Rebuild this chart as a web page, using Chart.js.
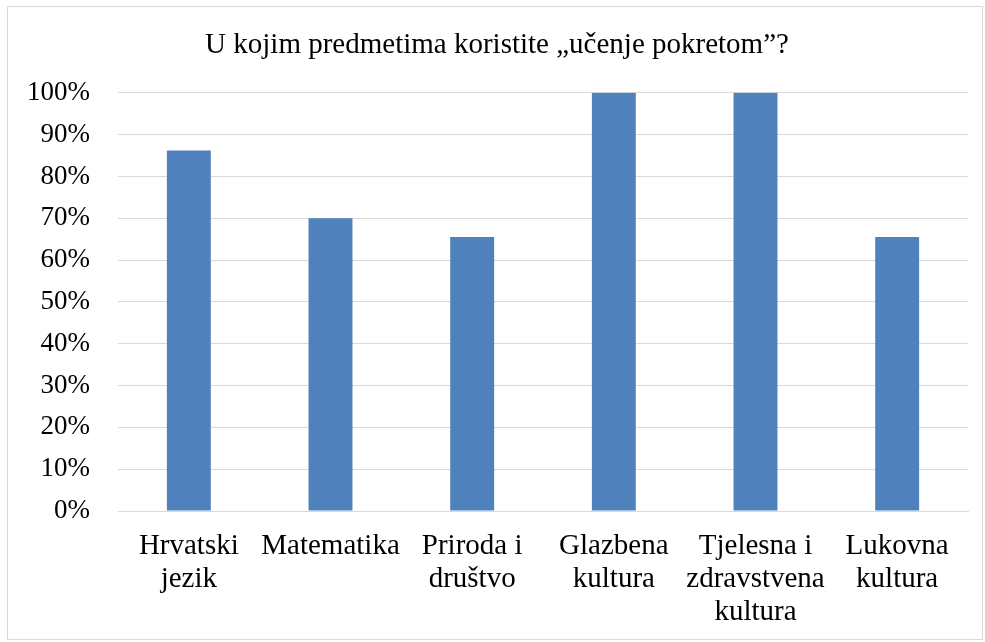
<!DOCTYPE html>
<html>
<head>
<meta charset="utf-8">
<script src="https://cdn.jsdelivr.net/npm/chart.js@4"></script>
<style>
  body { margin: 0; background: #fff; }
  #wrap { position: relative; width: 985px; height: 642px; }
  #frame { position: absolute; left: 7px; top: 6px; width: 976px; height: 634px;
           border: 1px solid #d9d9d9; box-sizing: border-box; pointer-events: none; }
</style>
</head>
<body>
<div id="wrap">
  <canvas id="chart" width="985" height="642"></canvas>
  <div id="frame"></div>
</div>
<script>
// Data
let categories = [
    ["Hrvatski", "jezik"],
    ["Matematika"],
    ["Priroda i", "društvo"],
    ["Glazbena", "kultura"],
    ["Tjelesna i", "zdravstvena", "kultura"],
    ["Lukovna", "kultura"]
]
let values = [86.2, 70, 65.5, 100, 100, 65.5]
let title_text = "U kojim predmetima koristite „učenje pokretom”?"

let serif = "'Liberation Serif', 'Times New Roman', serif"

new Chart(document.getElementById("chart"), {
    type: 'bar',
    data: {
        labels: categories,
        datasets: [{
            data: values,
            backgroundColor: '#4F81BD',
            categoryPercentage: 1,
            barPercentage: 0.31,
        }]
    },
    options: {
        responsive: false,
        animation: false,
        // left padding keeps the title centred on the frame, not on the plot
        layout: { padding: { left: 26, right: 17, top: 0, bottom: 0 } },
        plugins: {
            legend: { display: false },
            tooltip: { enabled: false },
            title: {
                display: true,
                text: title_text,
                color: '#000',
                font: { family: serif, size: 29, weight: 'normal', lineHeight: 1.2 },
                padding: { top: 28, bottom: 30 },
            }
        },
        scales: {
            x: {
                // the x axis keeps a fixed height so the plot ends where the reference does
                afterFit: (scale) => { scale.height = 131 },
                grid: { display: false, drawTicks: false },
                border: { display: true, color: '#d9d9d9', width: 1 },
                ticks: {
                    color: '#000',
                    padding: 19,
                    maxRotation: 0,
                    autoSkip: false,
                    font: { family: serif, size: 29, lineHeight: 1.14 },
                }
            },
            y: {
                min: 0,
                max: 100,
                afterFit: (scale) => { scale.width = 92 },
                grid: { color: '#d9d9d9', lineWidth: 1, drawTicks: false },
                border: { display: false },
                ticks: {
                    stepSize: 10,
                    color: '#000',
                    padding: 28,
                    font: { family: serif, size: 27 },
                    callback: (v) => v + "%",
                }
            }
        }
    }
})
</script>
</body>
</html>
